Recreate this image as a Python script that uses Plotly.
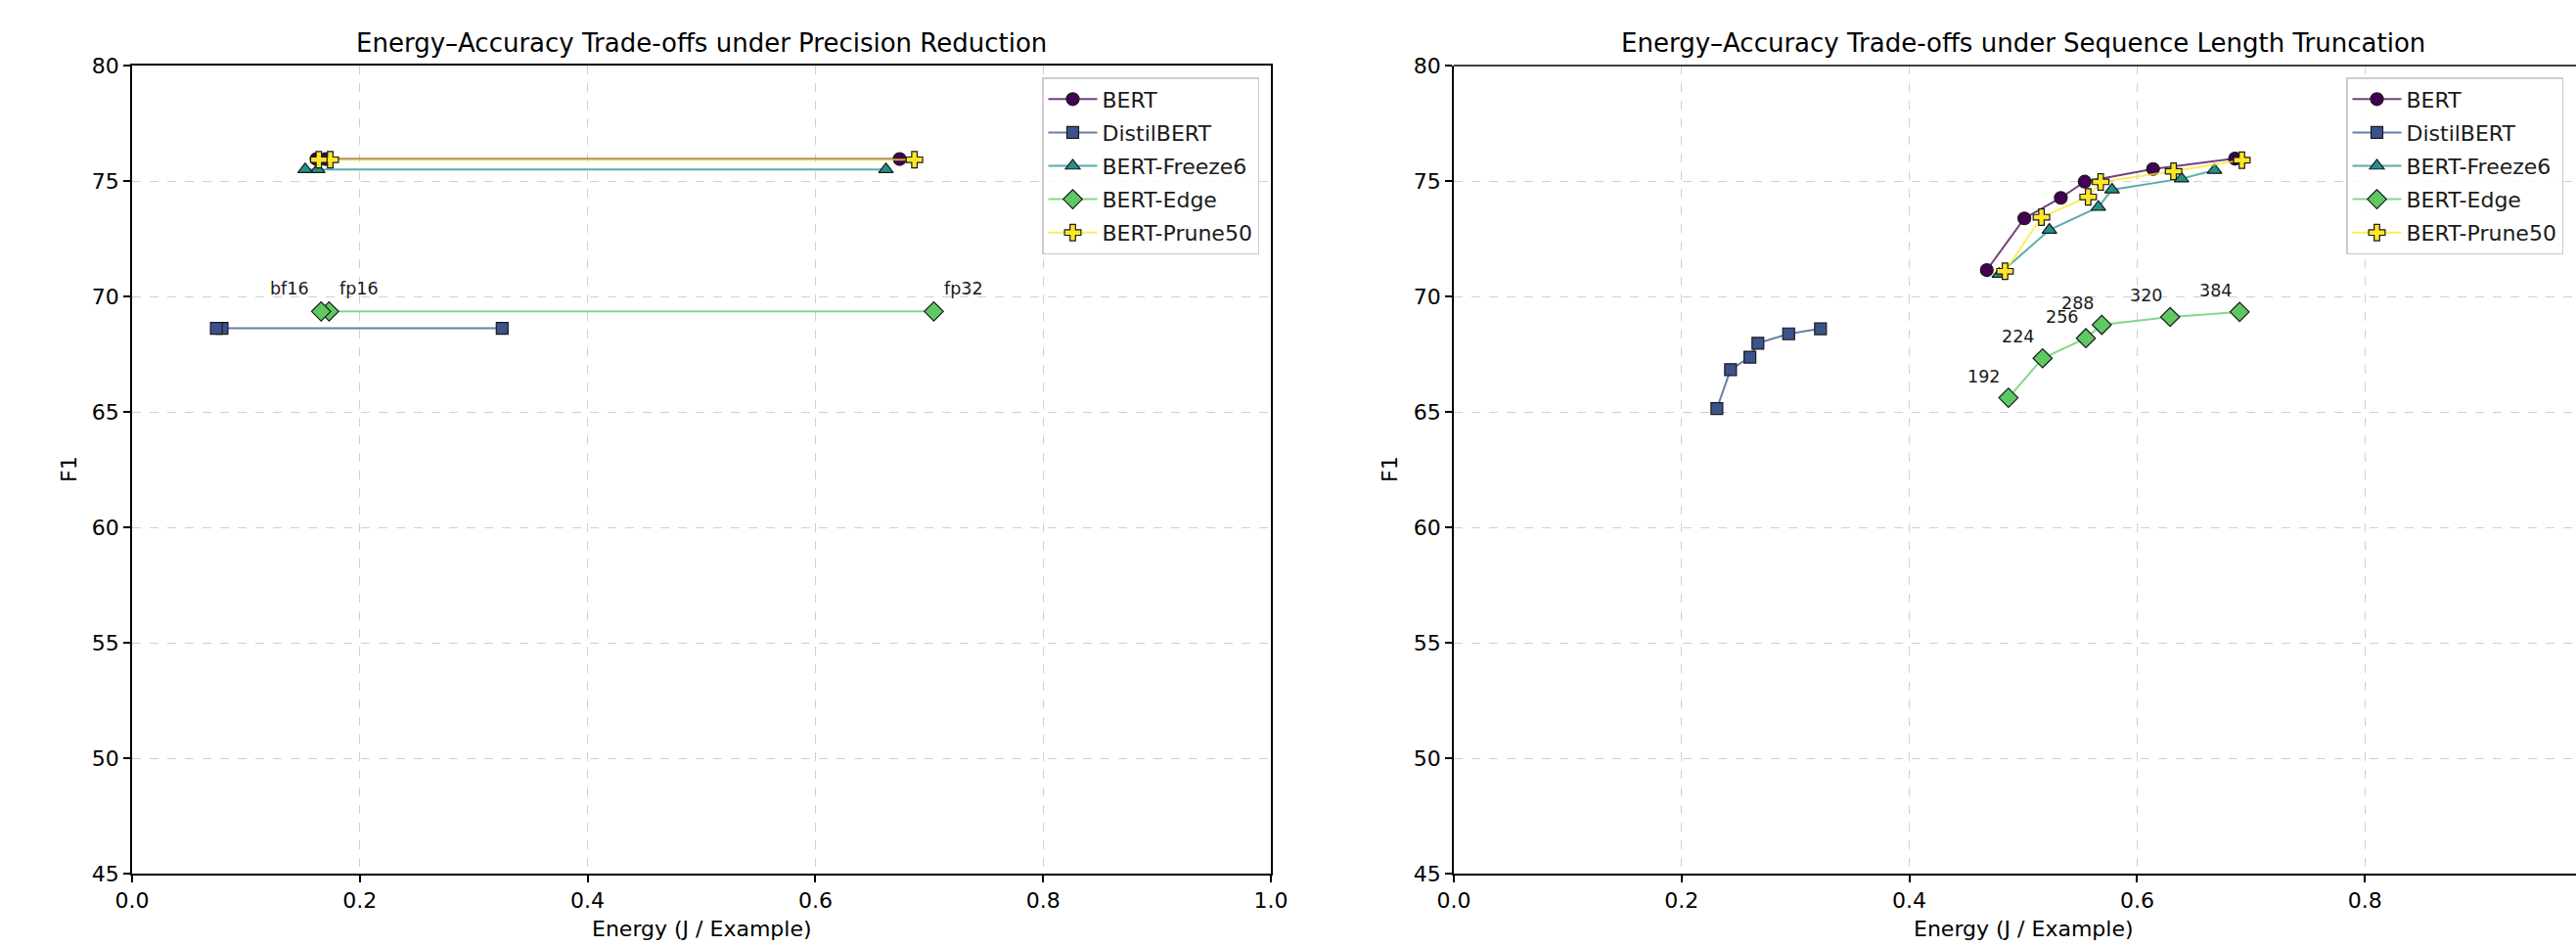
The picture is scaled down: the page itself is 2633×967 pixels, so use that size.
import plotly.graph_objects as go

# ---------------- data ----------------
models = ["BERT", "DistilBERT", "BERT-Freeze6", "BERT-Edge", "BERT-Prune50"]
colors = ["#440154", "#3b528b", "#21918c", "#5ec962", "#fde725"]
symbols = ["circle", "square", "triangle-up", "diamond", "cross"]
msizes = [13, 12, 13, 15, 14]

precisions = ["fp32", "fp16", "bf16"]
bert_prec_energy = [0.674, 0.170, 0.162]
bert_prec_f1 = [75.95, 75.95, 75.95]
distil_prec_energy = [0.325, 0.079, 0.074]
distil_prec_f1 = [68.62, 68.62, 68.62]
freeze_prec_energy = [0.662, 0.163, 0.152]
freeze_prec_f1 = [75.50, 75.50, 75.50]
edge_prec_energy = [0.704, 0.173, 0.166]
edge_prec_f1 = [69.35, 69.35, 69.35]
prune_prec_energy = [0.687, 0.174, 0.164]
prune_prec_f1 = [75.92, 75.92, 75.92]

seq_lengths = [192, 224, 256, 288, 320, 384]
bert_seq_energy = [0.468, 0.501, 0.533, 0.554, 0.614, 0.686]
bert_seq_f1 = [71.14, 73.38, 74.27, 74.97, 75.52, 75.97]
distil_seq_energy = [0.231, 0.243, 0.260, 0.267, 0.294, 0.322]
distil_seq_f1 = [65.14, 66.83, 67.37, 67.97, 68.38, 68.60]
freeze_seq_energy = [0.479, 0.523, 0.566, 0.578, 0.639, 0.668]
freeze_seq_f1 = [70.97, 72.88, 73.87, 74.62, 75.10, 75.47]
edge_seq_energy = [0.487, 0.517, 0.555, 0.569, 0.629, 0.690]
edge_seq_f1 = [65.61, 67.32, 68.19, 68.77, 69.11, 69.33]
prune_seq_energy = [0.484, 0.516, 0.557, 0.568, 0.632, 0.692]
prune_seq_f1 = [71.09, 73.43, 74.31, 74.96, 75.42, 75.90]

x_ticks = [0.0, 0.2, 0.4, 0.6, 0.8, 1.0]
y_ticks = [45, 50, 55, 60, 65, 70, 75, 80]

prec_series = [(bert_prec_energy, bert_prec_f1), (distil_prec_energy, distil_prec_f1),
               (freeze_prec_energy, freeze_prec_f1), (edge_prec_energy, edge_prec_f1),
               (prune_prec_energy, prune_prec_f1)]
seq_series = [(bert_seq_energy, bert_seq_f1), (distil_seq_energy, distil_seq_f1),
              (freeze_seq_energy, freeze_seq_f1), (edge_seq_energy, edge_seq_f1),
              (prune_seq_energy, prune_seq_f1)]

# ---------------- layout geometry ----------------
W, H = 2633, 967
FONT = "DejaVu Sans"

def hexrgba(h, a):
    h = h.lstrip("#")
    r, g, b = int(h[0:2], 16), int(h[2:4], 16), int(h[4:6], 16)
    return f"rgba({r},{g},{b},{a})"

fig = go.Figure()

for i, m in enumerate(models):
    ex, fy = prec_series[i]
    fig.add_trace(go.Scatter(
        x=ex, y=fy, mode="lines+markers", name=m, xaxis="x", yaxis="y",
        legend="legend", legendgroup="L" + m,
        line=dict(color=hexrgba(colors[i], 0.75), width=2),
        marker=dict(symbol=symbols[i], size=msizes[i], color=colors[i],
                    line=dict(color="#1a1a1a", width=1.2)),
        showlegend=True))
for i, m in enumerate(models):
    ex, fy = seq_series[i]
    fig.add_trace(go.Scatter(
        x=ex, y=fy, mode="lines+markers", name=m, xaxis="x2", yaxis="y2",
        legend="legend2", legendgroup="R" + m,
        line=dict(color=hexrgba(colors[i], 0.75), width=2),
        marker=dict(symbol=symbols[i], size=msizes[i], color=colors[i],
                    line=dict(color="#1a1a1a", width=1.2)),
        showlegend=True))

annotations = []
# precision labels on BERT-Edge
for p, ex, fy in zip(precisions, edge_prec_energy, edge_prec_f1):
    shift = -32 if p == "bf16" else 31
    annotations.append(dict(x=ex, y=fy, xref="x", yref="y", text=p, showarrow=False,
                            xanchor="center", yanchor="middle", xshift=shift, yshift=23,
                            font=dict(family=FONT, size=17.5, color="#1a1a1a")))
# sequence length labels on BERT-Edge
for L, ex, fy in zip(seq_lengths, edge_seq_energy, edge_seq_f1):
    annotations.append(dict(x=ex, y=fy, xref="x2", yref="y2", text=str(L), showarrow=False,
                            xanchor="center", yanchor="middle", xshift=-25, yshift=22,
                            font=dict(family=FONT, size=17.5, color="#1a1a1a")))

# titles & axis labels
annotations += [
    dict(x=0.5, y=1 - 44 / H, xref="x domain", yref="paper", text="Energy–Accuracy Trade-offs under Precision Reduction",
         showarrow=False, xanchor="center", yanchor="middle", font=dict(family=FONT, size=26, color="black")),
    dict(x=0.5, y=1 - 44 / H, xref="x2", yref="paper", text="Energy–Accuracy Trade-offs under Sequence Length Truncation",
         showarrow=False, xanchor="center", yanchor="middle", font=dict(family=FONT, size=26, color="black")),
    dict(x=0.5, y=1 - 949 / H, xref="x domain", yref="paper", text="Energy (J / Example)",
         showarrow=False, xanchor="center", yanchor="middle", font=dict(family=FONT, size=22, color="black")),
    dict(x=0.5, y=1 - 949 / H, xref="x2", yref="paper", text="Energy (J / Example)",
         showarrow=False, xanchor="center", yanchor="middle", font=dict(family=FONT, size=22, color="black")),
    dict(x=70 / W, y=1 - 480 / H, xref="paper", yref="paper", text="F1", textangle=-90,
         showarrow=False, xanchor="center", yanchor="middle", font=dict(family=FONT, size=22, color="black")),
    dict(x=1420 / W, y=1 - 480 / H, xref="paper", yref="paper", text="F1", textangle=-90,
         showarrow=False, xanchor="center", yanchor="middle", font=dict(family=FONT, size=22, color="black")),
]

ydom = [1 - 893 / H, 1 - 67 / H]
axis_common = dict(
    showline=True, linecolor="black", linewidth=1.7,
    ticks="outside", ticklen=7, tickwidth=1.5, tickcolor="black",
    showgrid=True, gridcolor="rgba(170,170,170,0.55)", griddash="dash", gridwidth=1,
    zeroline=False, tickfont=dict(family=FONT, size=22, color="black"),
)

right_max = (W - 1486) / 1164.0

legend_common = dict(yanchor="top", bgcolor="rgba(255,255,255,0.85)", bordercolor="#cccccc",
                     borderwidth=1.5, font=dict(family=FONT, size=22, color="#1a1a1a"),
                     itemwidth=50, tracegroupgap=2.5)

fig.update_layout(
    width=W, height=H,
    margin=dict(l=0, r=0, t=0, b=0, autoexpand=False),
    paper_bgcolor="white", plot_bgcolor="white",
    font=dict(family=FONT, color="black"),
    xaxis=dict(domain=[135 / W, 1299 / W], range=[0, 1], tickvals=x_ticks,
               ticktext=[f"{v:.1f}" for v in x_ticks], mirror=True, anchor="y", **axis_common),
    yaxis=dict(domain=ydom, range=[45, 80], tickvals=y_ticks, mirror=True, anchor="x", **axis_common),
    xaxis2=dict(domain=[1486 / W, 1.0], range=[0, right_max], tickvals=x_ticks,
                ticktext=[f"{v:.1f}" for v in x_ticks], mirror=False, anchor="y2", **axis_common),
    yaxis2=dict(domain=ydom, range=[45, 80], tickvals=y_ticks, mirror=False, anchor="x2", **axis_common),
    legend=dict(x=1287 / W, y=1 - 79 / H, xanchor="right", **legend_common),
    legend2=dict(x=2398 / W, y=1 - 79 / H, xanchor="left", **legend_common),
    annotations=annotations,
    shapes=[dict(type="line", xref="x2 domain", yref="y2 domain", x0=0, x1=1, y0=1, y1=1,
                 line=dict(color="black", width=1.7))],
)

fig.write_html("out.html", config={"displayModeBar": False},
               post_script="document.body.style.margin='0';document.body.style.overflow='hidden';")
